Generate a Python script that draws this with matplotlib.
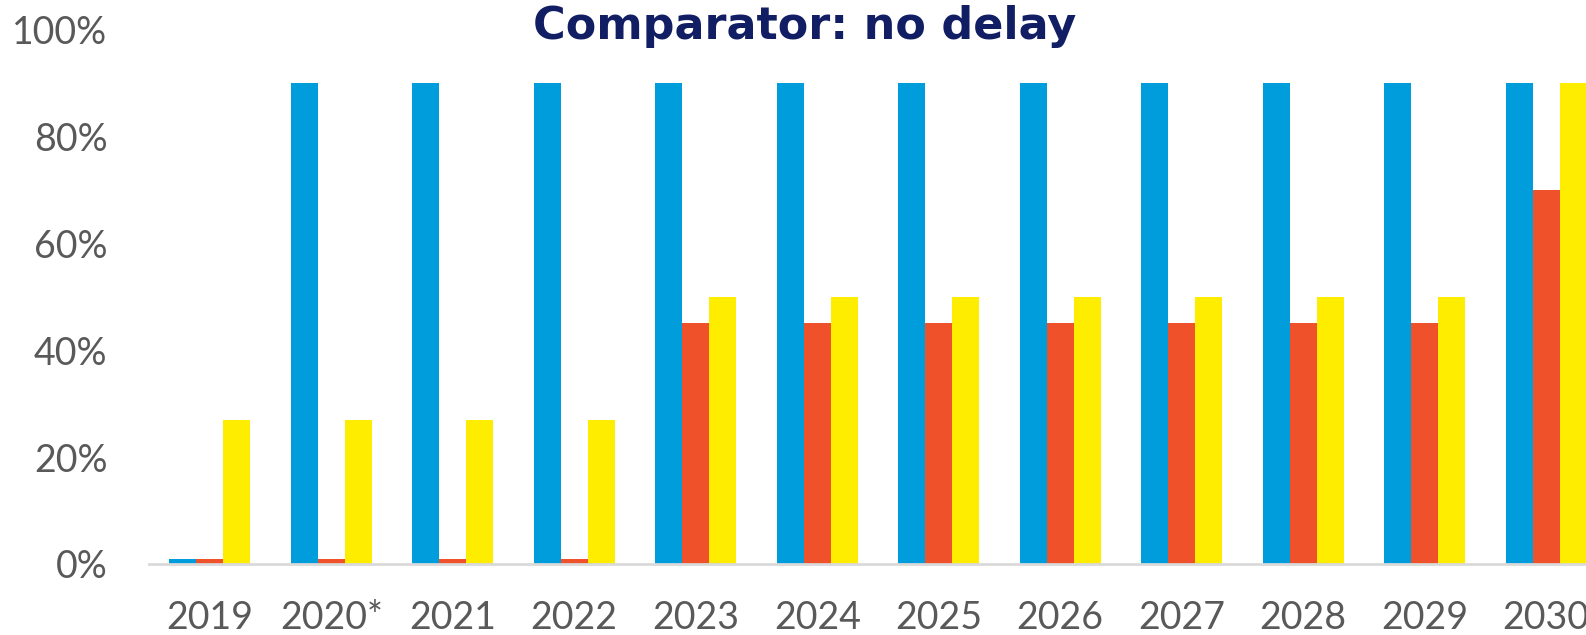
import numpy as np
import matplotlib.pyplot as plt
from matplotlib.ticker import PercentFormatter

years = ['2019', '2020*', '2021', '2022', '2023', '2024', '2025', '2026',
         '2027', '2028', '2029', '2030']
blue_vals = [1, 90, 90, 90, 90, 90, 90, 90, 90, 90, 90, 90]
red_vals = [1, 1, 1, 1, 45, 45, 45, 45, 45, 45, 45, 70]
yellow_vals = [27, 27, 27, 27, 50, 50, 50, 50, 50, 50, 50, 90]

fig = plt.figure(figsize=(15.86, 6.35), dpi=100)
# axes runs past the right edge, like the original (2030 is clipped)
ax = fig.add_axes([149 / 1586, 71 / 635, 1458 / 1586, 535 / 635])

x = np.arange(len(years))
w = 1 / 4.5
ax.bar(x - w, blue_vals, w, color='#009DDC')
ax.bar(x, red_vals, w, color='#EF512A')
ax.bar(x + w, yellow_vals, w, color='#FFED00')

ax.set_xlim(-0.5, len(years) - 0.5)
ax.set_ylim(0, 100)
ax.set_yticks(range(0, 101, 20))
ax.yaxis.set_major_formatter(PercentFormatter(decimals=0))
ax.set_xticks(x)
ax.set_xticklabels(years)

for s in ['top', 'right', 'left']:
    ax.spines[s].set_visible(False)
ax.spines['bottom'].set_color('#D9D9D9')
ax.spines['bottom'].set_linewidth(2)
ax.tick_params(length=0, labelcolor='#595959', labelsize=27)
ax.tick_params(axis='y', pad=30)
ax.tick_params(axis='x', pad=26)
for lab in ax.get_xticklabels() + ax.get_yticklabels():
    lab.set_family('Lato')

fig.text(805 / 1586, 1 - 27 / 635, 'Comparator: no delay', ha='center', va='center',
         fontsize=32, fontweight='bold', family='DejaVu Sans', color='#121E64')

fig.savefig('out.png', dpi=100)
